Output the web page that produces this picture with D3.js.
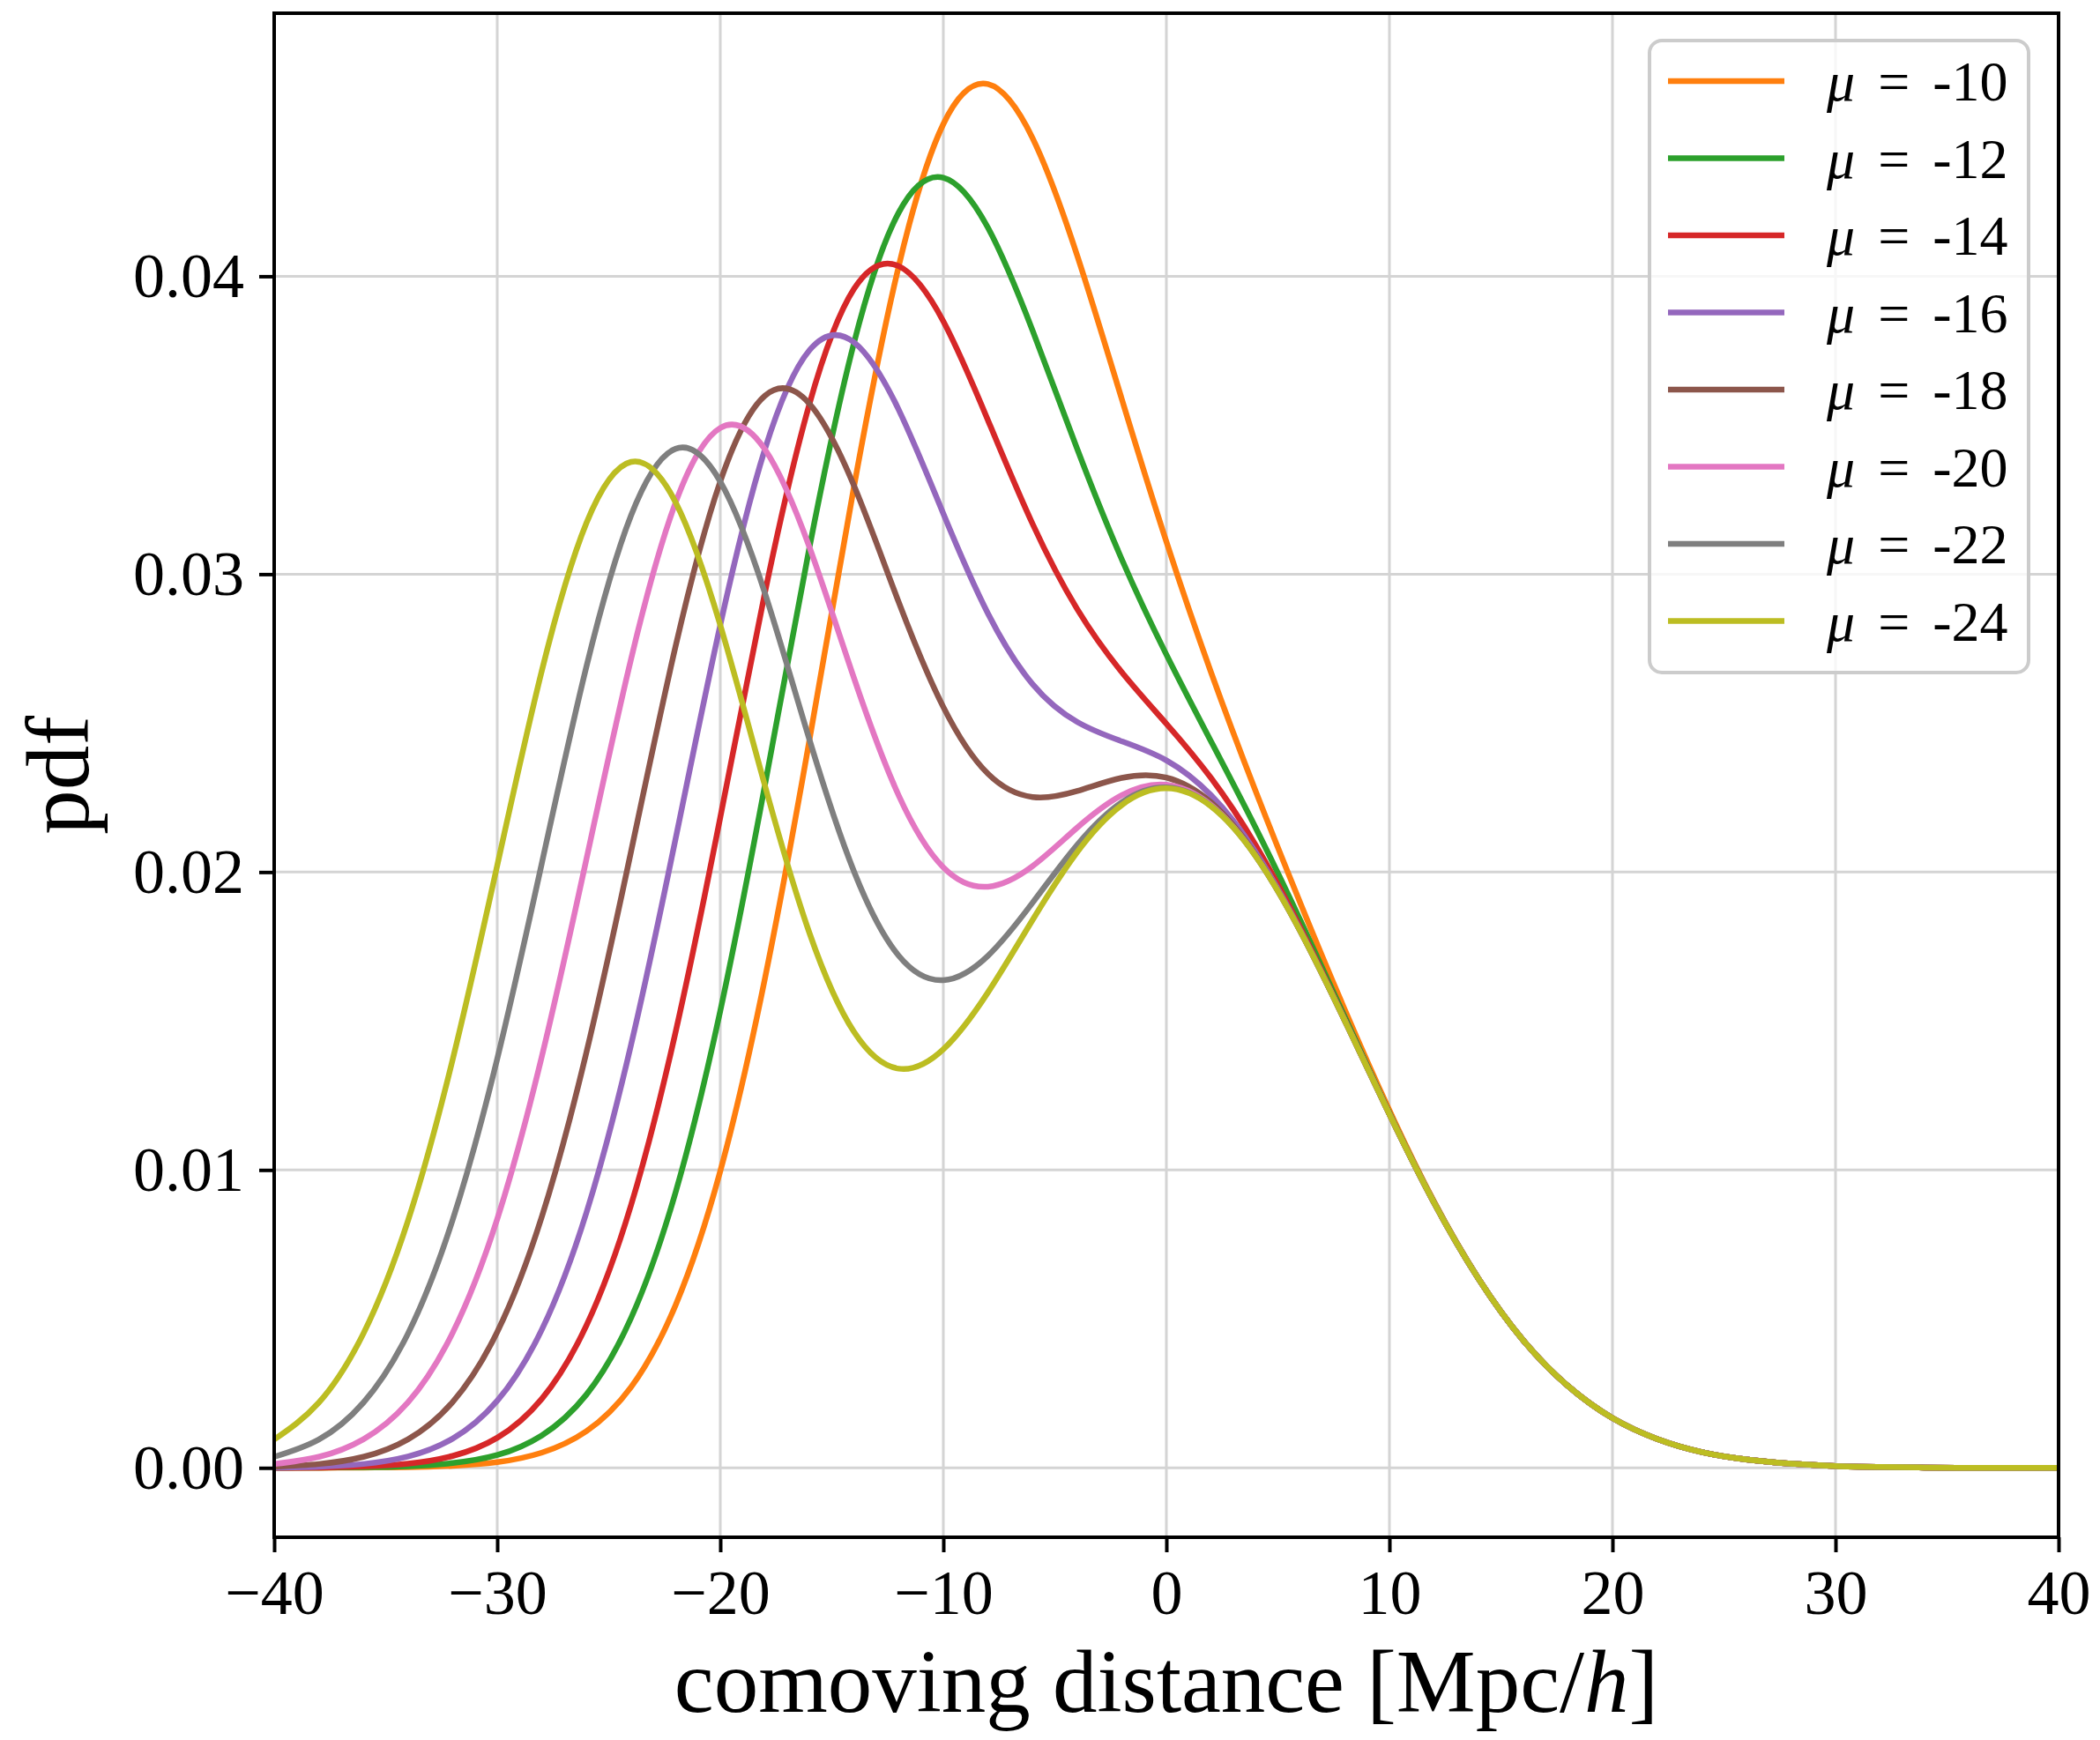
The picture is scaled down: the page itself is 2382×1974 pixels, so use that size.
<!DOCTYPE html>
<html><head><meta charset="utf-8">
<script src="https://cdn.jsdelivr.net/npm/d3@7"></script>
<style>body{margin:0;background:#fff}svg{display:block}</style>
</head><body><svg id="chart" width="2382" height="1974"></svg>
<script>
// ---- data ----
const xValues = [-40,-38,-36,-34,-32,-30,-28,-26,-24,-22,-20,-18,-16,-14,-12,-10,-8,-6,-4,-2,0,2,4,6,8,10,12,14,16,18,20,22,24,26,28,30,32,34,36,38,40];

const pdfMu10 = [0.00000,0.00000,0.00001,0.00002,0.00007,0.00019,0.00051,0.00123,0.00271,0.00547,0.00996,0.01642,0.02444,0.03296,0.04034,0.04511,0.04645,0.04464,0.04070,0.03588,0.03109,0.02671,0.02272,0.01897,0.01538,0.01200,0.00894,0.00635,0.00428,0.00275,0.00167,0.00097,0.00053,0.00028,0.00014,0.00006,0.00003,0.00001,0.00000,0.00000,0.00000];
const pdfMu12 = [0.00000,0.00001,0.00002,0.00005,0.00016,0.00043,0.00109,0.00246,0.00503,0.00926,0.01534,0.02291,0.03090,0.03778,0.04214,0.04331,0.04163,0.03818,0.03421,0.03050,0.02730,0.02439,0.02149,0.01839,0.01514,0.01191,0.00891,0.00634,0.00428,0.00275,0.00167,0.00097,0.00053,0.00028,0.00014,0.00006,0.00003,0.00001,0.00000,0.00000,0.00000];
const pdfMu14 = [0.00000,0.00001,0.00005,0.00014,0.00040,0.00101,0.00232,0.00478,0.00882,0.01464,0.02183,0.02937,0.03572,0.03958,0.04034,0.03849,0.03517,0.03169,0.02883,0.02671,0.02498,0.02316,0.02091,0.01815,0.01505,0.01188,0.00890,0.00634,0.00428,0.00275,0.00167,0.00097,0.00053,0.00028,0.00014,0.00006,0.00003,0.00001,0.00000,0.00000,0.00000];
const pdfMu16 = [0.00001,0.00004,0.00013,0.00038,0.00098,0.00225,0.00464,0.00857,0.01420,0.02113,0.02829,0.03419,0.03752,0.03778,0.03552,0.03203,0.02868,0.02631,0.02504,0.02439,0.02375,0.02258,0.02067,0.01806,0.01502,0.01187,0.00890,0.00634,0.00428,0.00275,0.00167,0.00097,0.00053,0.00028,0.00014,0.00006,0.00003,0.00001,0.00000,0.00000,0.00000];
const pdfMu18 = [0.00004,0.00013,0.00037,0.00096,0.00221,0.00456,0.00843,0.01395,0.02069,0.02759,0.03311,0.03599,0.03572,0.03296,0.02906,0.02554,0.02330,0.02252,0.02272,0.02316,0.02317,0.02234,0.02058,0.01803,0.01501,0.01187,0.00890,0.00634,0.00428,0.00275,0.00167,0.00097,0.00053,0.00028,0.00014,0.00006,0.00003,0.00001,0.00000,0.00000,0.00000];
const pdfMu20 = [0.00013,0.00037,0.00096,0.00220,0.00453,0.00835,0.01381,0.02044,0.02715,0.03241,0.03491,0.03419,0.03090,0.02650,0.02257,0.02016,0.01951,0.02020,0.02149,0.02258,0.02293,0.02225,0.02055,0.01802,0.01501,0.01187,0.00890,0.00634,0.00428,0.00275,0.00167,0.00097,0.00053,0.00028,0.00014,0.00006,0.00003,0.00001,0.00000,0.00000,0.00000];
const pdfMu22 = [0.00037,0.00095,0.00219,0.00451,0.00832,0.01373,0.02030,0.02690,0.03197,0.03421,0.03311,0.02937,0.02444,0.02001,0.01719,0.01637,0.01719,0.01897,0.02091,0.02234,0.02284,0.02222,0.02054,0.01802,0.01501,0.01187,0.00890,0.00634,0.00428,0.00275,0.00167,0.00097,0.00053,0.00028,0.00014,0.00006,0.00003,0.00001,0.00000,0.00000,0.00000];
const pdfMu24 = [0.00095,0.00219,0.00451,0.00830,0.01370,0.02022,0.02676,0.03172,0.03377,0.03241,0.02829,0.02291,0.01795,0.01463,0.01340,0.01405,0.01596,0.01839,0.02067,0.02225,0.02281,0.02221,0.02054,0.01802,0.01501,0.01187,0.00890,0.00634,0.00428,0.00275,0.00167,0.00097,0.00053,0.00028,0.00014,0.00006,0.00003,0.00001,0.00000,0.00000,0.00000];

const seriesLabels = ["-10","-12","-14","-16","-18","-20","-22","-24"];
const seriesColors = ["#ff7f0e","#2ca02c","#d62728","#9467bd","#8c564b","#e377c2","#7f7f7f","#bcbd22"];
const seriesValues = [pdfMu10,pdfMu12,pdfMu14,pdfMu16,pdfMu18,pdfMu20,pdfMu22,pdfMu24];

const xTickValues = [-40,-30,-20,-10,0,10,20,30,40];
const xTickLabels = ["\u221240","\u221230","\u221220","\u221210","0","10","20","30","40"];
const yTickValues = [0,0.01,0.02,0.03,0.04];
const yTickLabels = ["0.00","0.01","0.02","0.03","0.04"];

// ---- layout ----
const FONT = "'Liberation Serif','DejaVu Serif',serif";
const L = 311, R = 2335, T = 15, B = 1744;
const svg = d3.select("#chart");
const x = d3.scaleLinear().domain([-40, 40]).range([L, R]);
const y = d3.scaleLinear().domain([-0.00233, 0.04883]).range([B, T]);

// grid
const grid = svg.append("g");
grid.selectAll("line.vx").data(xTickValues).join("line")
  .attr("x1", d => x(d)).attr("x2", d => x(d)).attr("y1", T).attr("y2", B)
  .attr("stroke", "#d4d4d4").attr("stroke-width", 3);
grid.selectAll("line.hy").data(yTickValues).join("line")
  .attr("x1", L).attr("x2", R).attr("y1", d => y(d)).attr("y2", d => y(d))
  .attr("stroke", "#d4d4d4").attr("stroke-width", 3);

// curves
const line = d3.line().x((d, i) => x(xValues[i])).y(d => y(d)).curve(d3.curveNatural);
svg.append("g").selectAll("path").data(seriesValues).join("path")
  .attr("d", d => line(d)).attr("fill", "none")
  .attr("stroke", (d, i) => seriesColors[i]).attr("stroke-width", 6.5)
  .attr("stroke-linejoin", "round");

// axes
const xAxis = svg.append("g").attr("transform", `translate(0,${B})`)
  .call(d3.axisBottom(x).tickValues(xTickValues).tickFormat((d, i) => xTickLabels[i]).tickSize(17).tickPadding(19));
const yAxis = svg.append("g").attr("transform", `translate(${L},0)`)
  .call(d3.axisLeft(y).tickValues(yTickValues).tickFormat((d, i) => yTickLabels[i]).tickSize(17).tickPadding(17));
[xAxis, yAxis].forEach(a => {
  a.select(".domain").remove();
  a.selectAll(".tick line").attr("stroke", "#000").attr("stroke-width", 4);
  a.selectAll(".tick text").attr("fill", "#000").style("font-family", FONT).style("font-size", "72px");
});

// spines
svg.append("rect").attr("x", L).attr("y", T).attr("width", R - L).attr("height", B - T)
  .attr("fill", "none").attr("stroke", "#000").attr("stroke-width", 4);

// axis labels
const xl = svg.append("text").attr("x", (L + R) / 2).attr("y", 1942).attr("text-anchor", "middle")
  .style("font-family", FONT).style("font-size", "101px");
xl.append("tspan").text("comoving distance [Mpc/");
xl.append("tspan").attr("font-style", "italic").text("h");
xl.append("tspan").text("]");
svg.append("text").attr("transform", `translate(100,${(T + B) / 2}) rotate(-90)`).attr("text-anchor", "middle")
  .style("font-family", FONT).style("font-size", "101px").text("pdf");

// legend
const lg = svg.append("g");
lg.append("rect").attr("x", 1871).attr("y", 46).attr("width", 430).attr("height", 717).attr("rx", 14)
  .attr("fill", "#fff").attr("fill-opacity", 0.8).attr("stroke", "#cccccc").attr("stroke-width", 4);
seriesLabels.forEach((lab, i) => {
  const ry = 92 + i * 87.5;
  lg.append("line").attr("x1", 1892).attr("x2", 2024).attr("y1", ry).attr("y2", ry)
    .attr("stroke", seriesColors[i]).attr("stroke-width", 6.5);
  const t = lg.append("text").attr("x", 2072).attr("y", ry).attr("dy", "0.35em")
    .style("font-family", FONT).style("font-size", "64px");
  t.append("tspan").attr("font-style", "italic").text("\u03bc");
  t.append("tspan").attr("dx", 26).text("=");
  t.append("tspan").attr("dx", 26).text(lab);
});
</script></body></html>
